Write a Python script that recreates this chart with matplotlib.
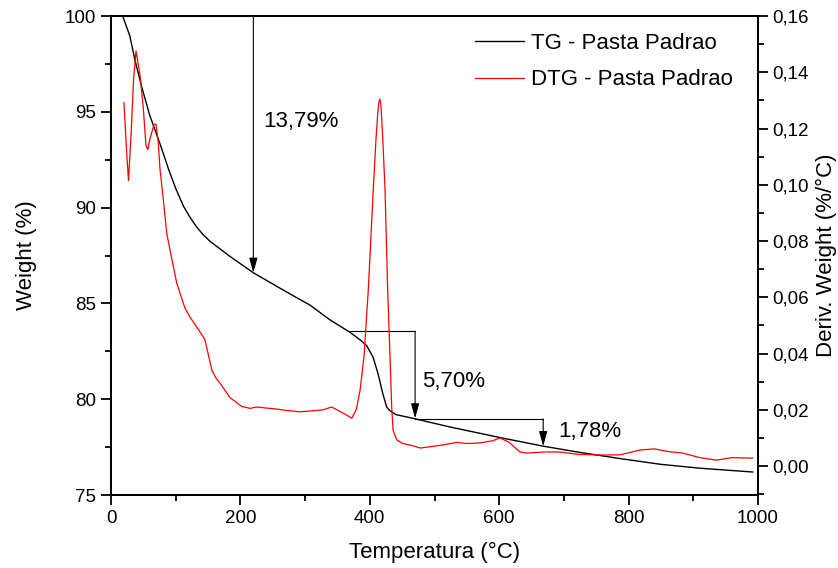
import numpy as np
import matplotlib
matplotlib.use("Agg")
import matplotlib.pyplot as plt
from matplotlib.ticker import MultipleLocator, FuncFormatter

plt.rcParams['font.family'] = ['Liberation Sans', 'DejaVu Sans']

# TG curve (weight %)
tg_temp = [18, 29, 37, 47, 60, 76, 89, 100, 112, 122, 132, 142, 153, 184, 220,
           266, 308, 338, 369, 385, 395, 405, 413, 420, 426, 431, 440, 467,
           524, 601, 668, 720, 787, 850, 910, 992]
tg_weight = [100.0, 98.97, 97.7, 96.35, 94.8, 93.3, 92.0, 91.0, 90.07, 89.5,
             89.0, 88.6, 88.24, 87.45, 86.6, 85.7, 84.9, 84.15, 83.5, 83.1,
             82.8, 82.2, 81.3, 80.3, 79.6, 79.4, 79.2, 79.0, 78.55, 78.0,
             77.55, 77.25, 76.9, 76.6, 76.4, 76.2]

# DTG curve (%/°C)
dtg_temp = [20, 24, 27, 31, 35, 38.6, 45, 50, 54, 57, 60, 66.5, 69.5, 73,
            75.7, 80.8, 86, 91, 101.5, 114, 122, 138, 145, 156, 163, 168, 184,
            202, 215, 225, 241, 255, 270, 292, 310, 328, 341, 354, 365, 372,
            379, 385, 391, 397.7, 405.4, 409.6, 412, 413.8, 415.4, 417.2, 420,
            423.5, 427.6, 431.2, 433.8, 436, 441.5, 451, 467, 478, 498, 515,
            534, 552, 570, 590, 601, 615, 632, 643, 670, 694, 720, 756, 787,
            818, 840, 860, 884, 910, 936, 960, 992]
dtg_val = [0.1292, 0.112, 0.1015, 0.118, 0.138, 0.1476, 0.1387, 0.1269, 0.114,
           0.1125, 0.1162, 0.1215, 0.1215, 0.115, 0.1055, 0.0948, 0.0829,
           0.077, 0.0651, 0.0563, 0.053, 0.0475, 0.045, 0.034, 0.031, 0.0296,
           0.0243, 0.0212, 0.0205, 0.0210, 0.0206, 0.0203, 0.0198, 0.0193,
           0.0196, 0.0200, 0.0210, 0.0194, 0.0180, 0.0170, 0.0200, 0.027,
           0.039, 0.0628, 0.0986, 0.1164, 0.1246, 0.1290, 0.1305, 0.1285,
           0.1164, 0.0986, 0.0628, 0.0389, 0.0211, 0.0127, 0.0093, 0.0080,
           0.0072, 0.0064, 0.0070, 0.0076, 0.0084, 0.0080, 0.0082, 0.0090,
           0.0100, 0.0085, 0.0050, 0.0046, 0.0050, 0.0050, 0.0042, 0.0039,
           0.0040, 0.0057, 0.0061, 0.0052, 0.0046, 0.0030, 0.0021, 0.0030,
           0.0028]

# mass loss steps: (start T, end T, top weight, bottom weight, label)
steps_x0 = [20, 369, 470]
steps_x1 = [220, 470, 668]
steps_top = [100.0, 83.55, 78.97]
steps_bot = [86.6, 79.0, 77.55]
steps_lbl = ['13,79%', '5,70%', '1,78%']
lbl_pos = [(235, 94.5), (481, 80.9), (691, 78.33)]

fig = plt.figure(figsize=(8.38, 5.68), dpi=100)
ax = fig.add_axes([0.1325, 0.1285, 0.772, 0.8433])
ax2 = ax.twinx()

l1, = ax.plot(tg_temp, tg_weight, color='black', lw=1.0, label='TG - Pasta Padrao')
l2, = ax2.plot(dtg_temp, dtg_val, color='red', lw=0.9, label='DTG - Pasta Padrao')

for x0, x1, top, bot, lbl, pos in zip(steps_x0, steps_x1, steps_top, steps_bot,
                                       steps_lbl, lbl_pos):
    ax.plot([x0, x1], [top, top], color='black', lw=0.8)
    ax.annotate('', xy=(x1, bot), xytext=(x1, top),
                arrowprops=dict(arrowstyle='-|>,head_length=0.9,head_width=0.25',
                                color='black', lw=0.8, shrinkA=0, shrinkB=0,
                                mutation_scale=10))
    ax.text(pos[0], pos[1], lbl, fontsize=16, ha='left', va='center')

ax.set_xlim(0, 1000)
ax.set_ylim(75, 100)
ax2.set_ylim(-0.0103, 0.16)

ax.xaxis.set_major_locator(MultipleLocator(200))
ax.xaxis.set_minor_locator(MultipleLocator(100))
ax.yaxis.set_major_locator(MultipleLocator(5))
ax.yaxis.set_minor_locator(MultipleLocator(2.5))
ax2.yaxis.set_major_locator(MultipleLocator(0.02))
ax2.yaxis.set_minor_locator(MultipleLocator(0.01))
ax2.yaxis.set_major_formatter(FuncFormatter(lambda v, p: f"{v:.2f}".replace('.', ',')))

for a in (ax, ax2):
    for s in a.spines.values():
        s.set_linewidth(1.4)
ax.tick_params(axis='both', which='major', direction='out', length=7, width=1.3,
               labelsize=13.5, top=False, right=False)
ax.tick_params(axis='both', which='minor', direction='out', length=4, width=1.3,
               top=False, right=False)
ax2.tick_params(axis='y', which='major', direction='out', length=7, width=1.3,
                labelsize=13.5)
ax2.tick_params(axis='y', which='minor', direction='out', length=4, width=1.3)

ax.set_xlabel('Temperatura (°C)', fontsize=16, labelpad=11)
ax.set_ylabel('Weight (%)', fontsize=16, labelpad=20)
ax2.set_ylabel('Deriv. Weight (%/°C)', fontsize=16, labelpad=5)

ax2.legend([l1, l2], [l1.get_label(), l2.get_label()], loc='upper left',
           bbox_to_anchor=(0.5626, 0.9645), frameon=False, fontsize=16,
           borderpad=0, borderaxespad=0, handlelength=2.2, handletextpad=0.3,
           labelspacing=0.69)

fig.savefig('out.png', dpi=100)
